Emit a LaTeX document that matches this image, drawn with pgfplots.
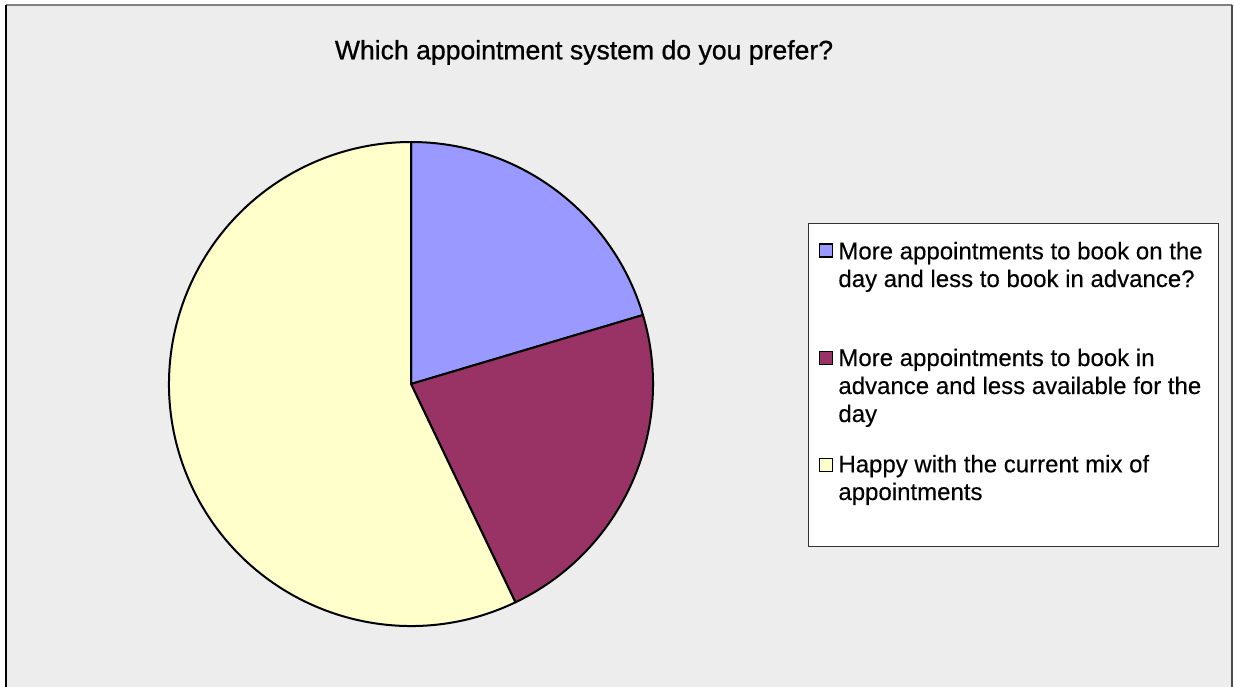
\documentclass[border=0pt]{standalone}
\usepackage{pgfplots}
\usepackage{pgfplotstable}
\pgfplotsset{compat=1.18}
\usepackage{fontspec}
\setmainfont{Liberation Sans}
\newfontfamily\heavyfont[FakeBold=0.8]{Liberation Sans}
\newfontfamily\legfont[FakeBold=0.3]{Liberation Sans}

\definecolor{pieblue}{HTML}{9999FF}
\definecolor{piepurple}{HTML}{993366}
\definecolor{pieyellow}{HTML}{FFFFCC}
\definecolor{chartbg}{HTML}{EDEDED}

% share of answers, in percent
\pgfplotstableread{
option share
ondayless 20.4
advanceless 22.5
happy 57.1
}\piedata

\begin{document}
\begin{tikzpicture}
\pgfplotstablegetelem{0}{share}\of\piedata \pgfmathsetmacro\sA{\pgfplotsretval}
\pgfplotstablegetelem{1}{share}\of\piedata \pgfmathsetmacro\sB{\pgfplotsretval}
\pgfplotstablegetelem{2}{share}\of\piedata \pgfmathsetmacro\sC{\pgfplotsretval}
\pgfmathsetmacro\total{\sA+\sB+\sC}
\pgfmathsetmacro\deg{360/\total}
\pgfmathsetmacro\aA{90-\deg*\sA}
\pgfmathsetmacro\aB{\aA-\deg*\sB}
\pgfmathsetmacro\aC{\aB-\deg*\sC}
\begin{axis}[
  x=0.5pt, y=0.5pt,
  xmin=0, xmax=1234, ymin=0, ymax=686,
  hide axis,
]
% chart area
\fill[white] (axis cs:0,0) rectangle (axis cs:1234,686);
\fill[chartbg] (axis cs:6,-20) rectangle (axis cs:1232,681);
\draw[gray, line width=0.75pt] (axis cs:6,681) -- (axis cs:1232,681);
\draw[black, line width=1pt] (axis cs:6,681) -- (axis cs:6,-20);
\draw[black!70, line width=1pt] (axis cs:1232,681) -- (axis cs:1232,-20);

\node[anchor=base, font=\heavyfont\fontsize{13.3}{16}\selectfont] at (axis cs:584,626.7)
  {Which appointment system do you prefer?};

% pie
\filldraw[fill=pieblue, draw=black, line width=1pt, line join=round]
  (axis cs:411,302) -- ++(90:121pt) arc[start angle=90, end angle=\aA, radius=121pt] -- cycle;
\filldraw[fill=piepurple, draw=black, line width=1pt, line join=round]
  (axis cs:411,302) -- ++(\aA:121pt) arc[start angle=\aA, end angle=\aB, radius=121pt] -- cycle;
\filldraw[fill=pieyellow, draw=black, line width=1pt, line join=round]
  (axis cs:411,302) -- ++(\aB:121pt) arc[start angle=\aB, end angle=\aC, radius=121pt] -- cycle;

% legend
\filldraw[fill=white, draw=black!80, line width=0.5pt] (axis cs:808,140) rectangle (axis cs:1218,462);
\filldraw[fill=pieblue, draw=black, line width=0.9pt] (axis cs:819.5,429) rectangle (axis cs:832.5,442);
\filldraw[fill=piepurple, draw=black, line width=0.9pt] (axis cs:819.5,321.5) rectangle (axis cs:832.5,334.5);
\filldraw[fill=pieyellow, draw=black, line width=0.9pt] (axis cs:819.5,214.5) rectangle (axis cs:832.5,227.5);
\begin{scope}[every node/.style={anchor=base west, inner sep=0pt, font=\legfont\fontsize{12}{14}\selectfont}]
\node at (axis cs:838,426.7) {More appointments to book on the};
\node at (axis cs:838,399) {day and less to book in advance?};
\node at (axis cs:838,320) {More appointments to book in};
\node at (axis cs:838,292) {advance and less available for the};
\node at (axis cs:838,264) {day};
\node at (axis cs:838,213.7) {Happy with the current mix of};
\node at (axis cs:838,186) {appointments};
\end{scope}
\end{axis}
\end{tikzpicture}
\end{document}
